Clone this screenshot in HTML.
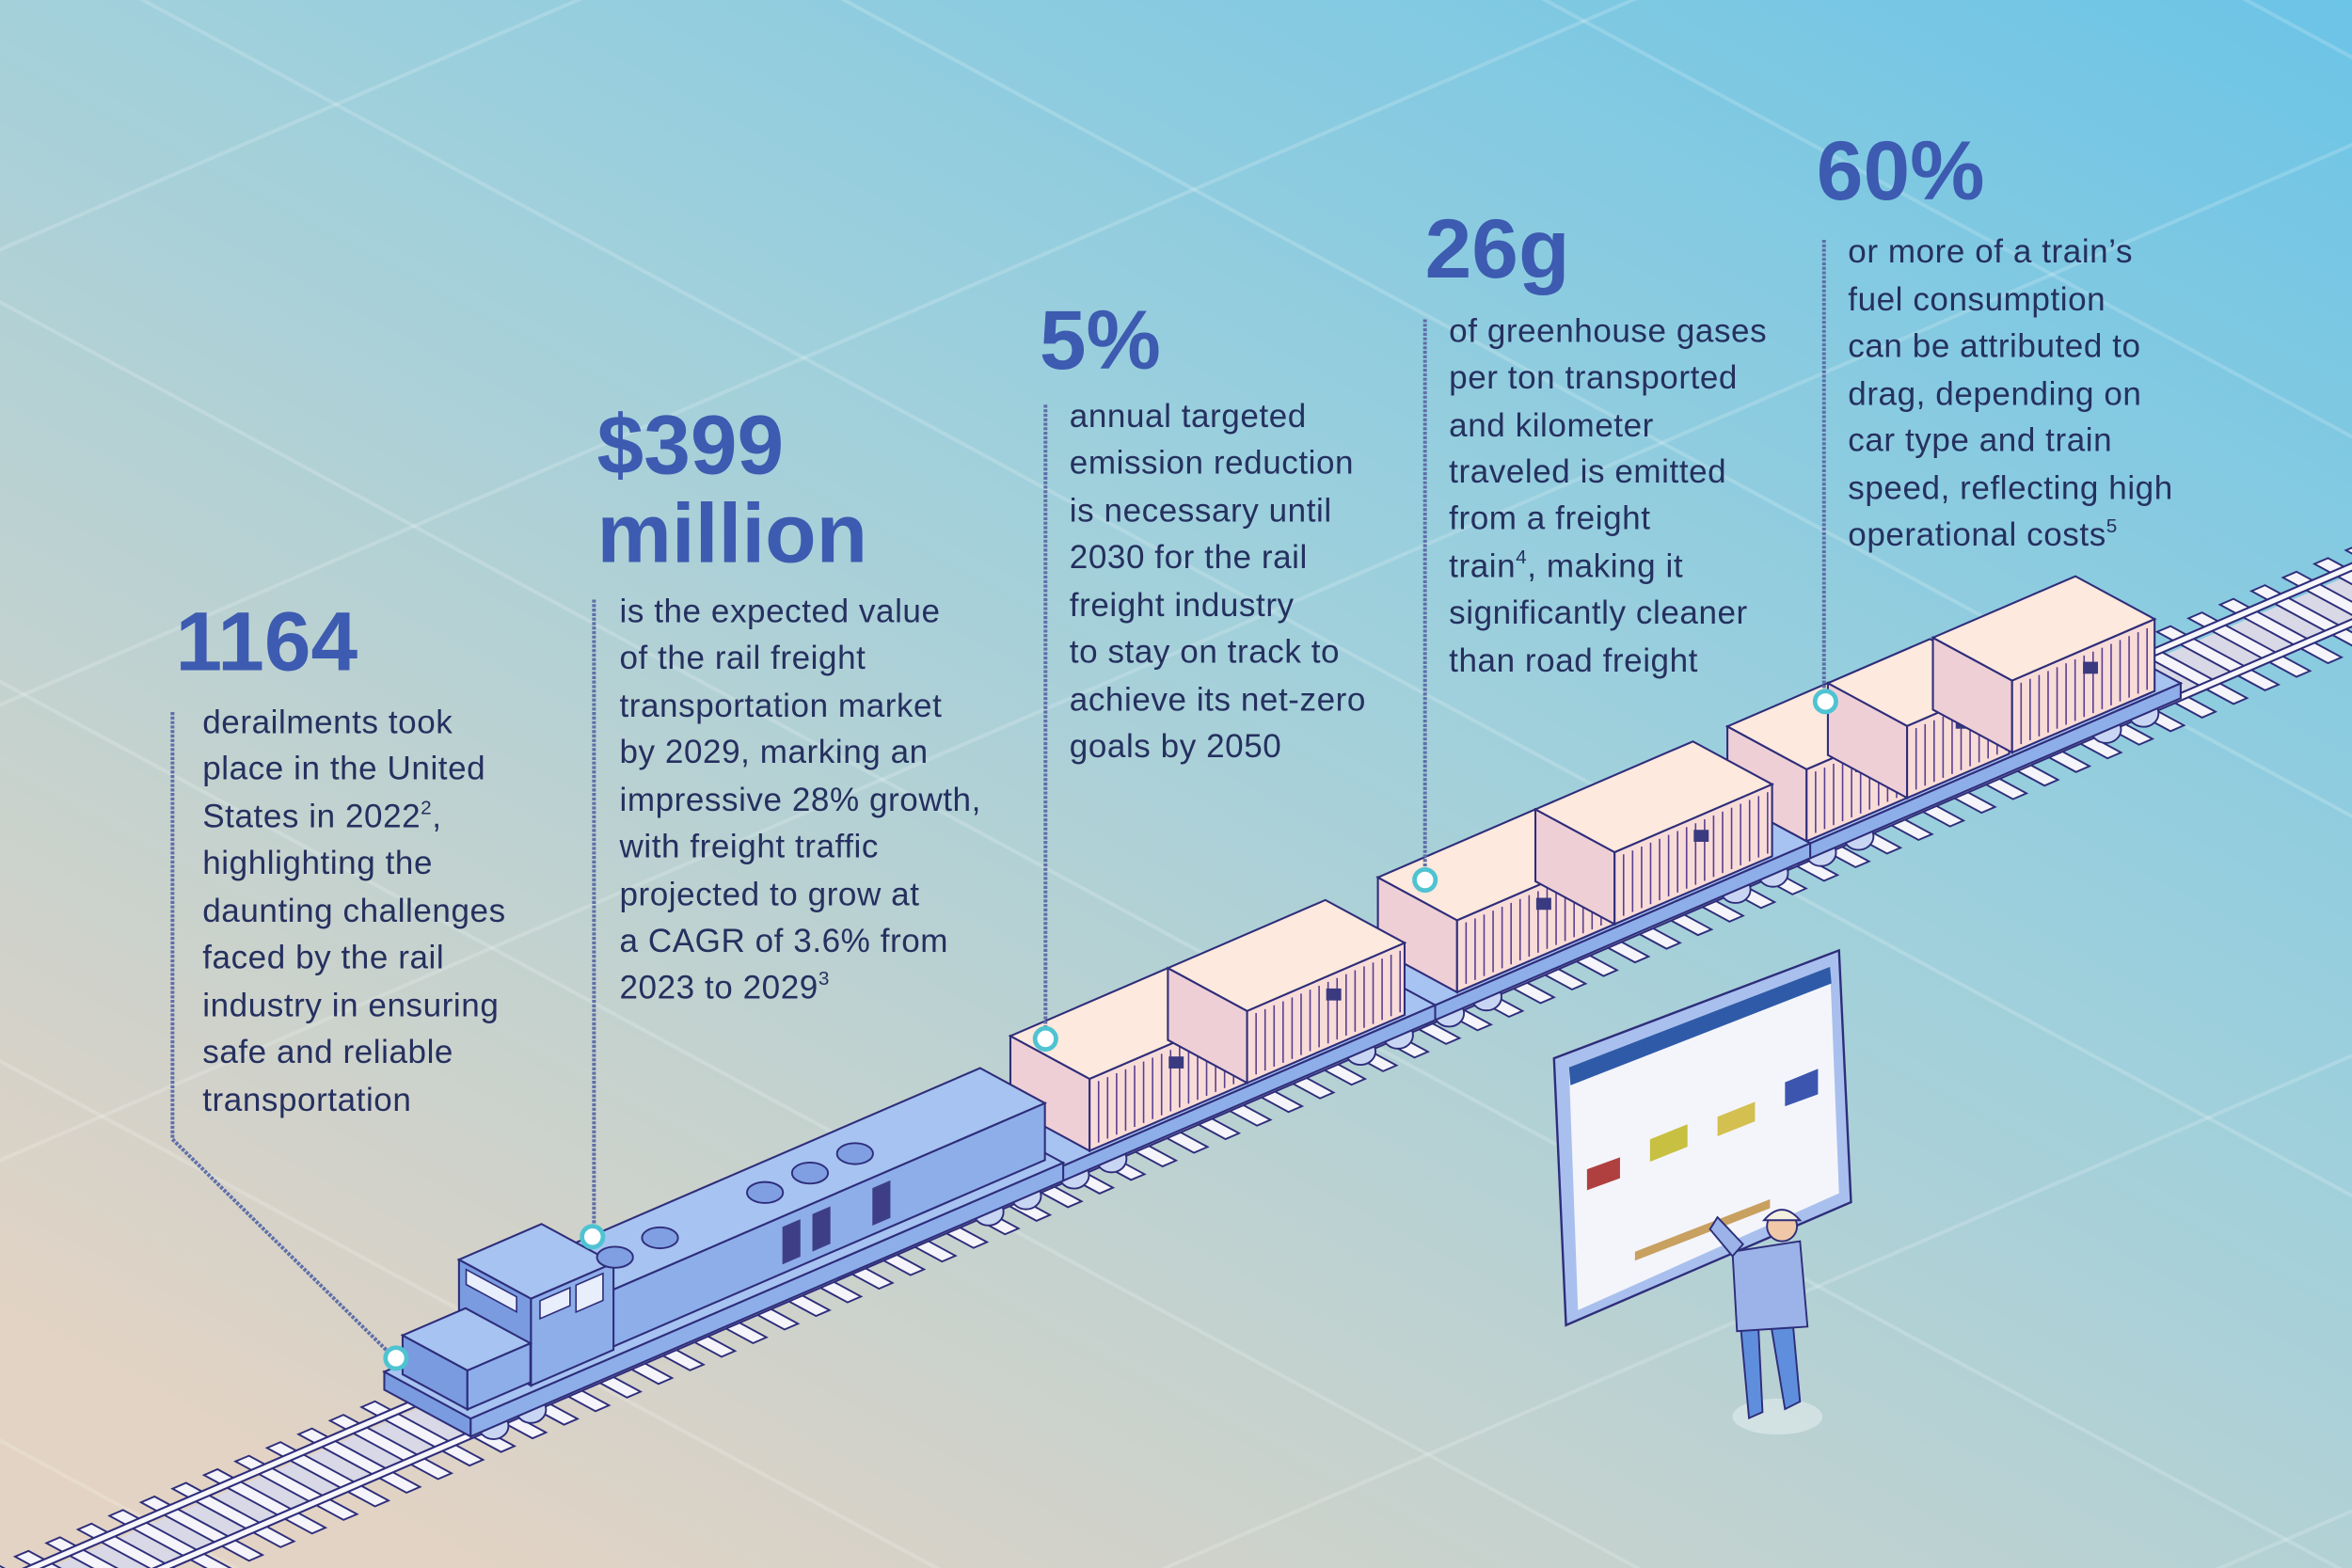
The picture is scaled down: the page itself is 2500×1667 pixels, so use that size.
<!DOCTYPE html>
<html><head><meta charset="utf-8">
<style>
html,body{margin:0;padding:0;width:2500px;height:1667px;overflow:hidden}
svg{display:block;overflow:hidden}
.b{font-family:"Liberation Sans",sans-serif;font-size:22px;letter-spacing:0.35px;fill:#25305f}
.h{font-family:"Liberation Sans",sans-serif;font-weight:bold;font-size:56px;fill:#3d5bb0}
</style></head>
<body>
<svg id="s" xmlns="http://www.w3.org/2000/svg" width="2500" height="1667" viewBox="0 0 1568 1046" preserveAspectRatio="none">
<defs>
<linearGradient id="bg" x1="1" y1="0" x2="0.2" y2="1">
<stop offset="0" stop-color="#6cc4e6"/>
<stop offset="0.45" stop-color="#9fd0dc"/>
<stop offset="1" stop-color="#e2d3c4"/>
</linearGradient>
</defs>
<rect width="1568" height="1046" fill="url(#bg)"/>
<g id="grid" stroke="#ffffff" stroke-opacity="0.18" stroke-width="2.5"></g>
<g id="track"></g>
<g id="train"></g>
<g id="screen">
<polygon points="1036,706 1226,634 1234,802 1044,884" fill="#a9c0ee" stroke="#2e2d7a" stroke-width="1.5"/>
<polygon points="1046,712 1220,645 1226,796 1052,874" fill="#f4f5fb"/>
<polygon points="1046,712 1220,645 1221,656 1047,724" fill="#2f5aa8"/>
<polygon points="1058,780 1080,772 1080,786 1058,794" fill="#b04040"/>
<polygon points="1100,760 1125,750 1125,765 1100,775" fill="#c8c040"/>
<polygon points="1145,745 1170,735 1170,748 1145,758" fill="#d4c050"/>
<polygon points="1190,722 1212,713 1212,730 1190,738" fill="#3c56b0"/>
<polygon points="1090,835 1180,800 1180,806 1090,841" fill="#c8a060"/>
</g>
<g id="person" stroke="#2e2d7a" stroke-width="1.2">
<ellipse cx="1185" cy="945" rx="30" ry="12" fill="#ffffff" fill-opacity="0.35" stroke="none"/>
<polygon points="1160,880 1172,880 1175,942 1166,946" fill="#5f8fdc"/>
<polygon points="1180,880 1195,880 1200,935 1190,940" fill="#5f8fdc"/>
<polygon points="1155,835 1200,828 1205,885 1158,888" fill="#9bb3e8"/>
<polygon points="1155,838 1140,820 1145,812 1162,830" fill="#9bb3e8"/>
<circle cx="1188" cy="818" r="10" fill="#f0c8a8"/>
<path d="M1176,814 q12,-14 24,0z" fill="#f4f0e0"/>
</g>
<g id="lines" stroke="#5f6fa8" stroke-width="2.5" stroke-dasharray="2 1" fill="none">
<polyline points="115,475 115,760 262,905"/>
<line x1="396" y1="400" x2="396" y2="823"/>
<line x1="697" y1="270" x2="697" y2="691"/>
<line x1="950" y1="213" x2="950" y2="585"/>
<line x1="1216" y1="160" x2="1216" y2="466"/>
</g>
<g fill="#ffffff" stroke="#4fc3d2" stroke-width="3">
<circle cx="264" cy="906" r="7"/><circle cx="395" cy="825" r="7"/>
<circle cx="697" cy="693" r="7"/><circle cx="950" cy="587" r="7"/><circle cx="1217" cy="468" r="7"/>
</g>
<text class="h" x="117" y="447">1164</text>
<text class="b" x="135"><tspan x="135" y="489">derailments took</tspan><tspan x="135" y="520">place in the United</tspan><tspan x="135" y="552">States in 2022<tspan font-size="13" dy="-9">2</tspan><tspan dy="9">,</tspan></tspan><tspan x="135" y="583">highlighting the</tspan><tspan x="135" y="615">daunting challenges</tspan><tspan x="135" y="646">faced by the rail</tspan><tspan x="135" y="678">industry in ensuring</tspan><tspan x="135" y="709">safe and reliable</tspan><tspan x="135" y="741">transportation</tspan></text>
<text class="h" x="398" y="316">$399</text>
<text class="h" x="398" y="375">million</text>
<text class="b"><tspan x="413" y="415">is the expected value</tspan><tspan x="413" y="446">of the rail freight</tspan><tspan x="413" y="478">transportation market</tspan><tspan x="413" y="509">by 2029, marking an</tspan><tspan x="413" y="541">impressive 28% growth,</tspan><tspan x="413" y="572">with freight traffic</tspan><tspan x="413" y="604">projected to grow at</tspan><tspan x="413" y="635">a CAGR of 3.6% from</tspan><tspan x="413" y="666">2023 to 2029<tspan font-size="13" dy="-9">3</tspan></tspan></text>
<text class="h" x="693" y="246">5%</text>
<text class="b"><tspan x="713" y="285">annual targeted</tspan><tspan x="713" y="316">emission reduction</tspan><tspan x="713" y="348">is necessary until</tspan><tspan x="713" y="379">2030 for the rail</tspan><tspan x="713" y="411">freight industry</tspan><tspan x="713" y="442">to stay on track to</tspan><tspan x="713" y="474">achieve its net-zero</tspan><tspan x="713" y="505">goals by 2050</tspan></text>
<text class="h" x="950" y="185">26g</text>
<text class="b"><tspan x="966" y="228">of greenhouse gases</tspan><tspan x="966" y="259">per ton transported</tspan><tspan x="966" y="291">and kilometer</tspan><tspan x="966" y="322">traveled is emitted</tspan><tspan x="966" y="353">from a freight</tspan><tspan x="966" y="385">train<tspan font-size="13" dy="-9">4</tspan><tspan dy="9">, making it</tspan></tspan><tspan x="966" y="416">significantly cleaner</tspan><tspan x="966" y="448">than road freight</tspan></text>
<text class="h" x="1211" y="133">60%</text>
<text class="b"><tspan x="1232" y="175">or more of a train’s</tspan><tspan x="1232" y="207">fuel consumption</tspan><tspan x="1232" y="238">can be attributed to</tspan><tspan x="1232" y="270">drag, depending on</tspan><tspan x="1232" y="301">car type and train</tspan><tspan x="1232" y="333">speed, reflecting high</tspan><tspan x="1232" y="364">operational costs<tspan font-size="13" dy="-9">5</tspan></tspan></text>
</svg>
<script>
(function(){
var NS="http://www.w3.org/2000/svg";
function P(t,s,h){return [t+24*s, 975-0.432*(t-238)+13*s-(h||0)];}
function pts(a){return a.map(function(p){return p[0].toFixed(1)+","+p[1].toFixed(1)}).join(" ");}
function el(g,n,at){var e=document.createElementNS(NS,n);for(var k in at)e.setAttribute(k,at[k]);g.appendChild(e);return e;}
var grid=document.getElementById("grid");
for(var i=-10;i<12;i++){var a=P(-400+i*260,-60,0),b=P(-400+i*260,60,0);
 el(grid,"line",{x1:a[0],y1:a[1],x2:b[0],y2:b[1]});}
for(var j=-5;j<5;j++){var a=P(-600,j*13,0),b=P(2400,j*13,0);
 el(grid,"line",{x1:a[0],y1:a[1],x2:b[0],y2:b[1]});}
var tr=document.getElementById("track");
var S="#2e2d7a";
el(tr,"polygon",{points:pts([P(-100,-0.75),P(1700,-0.75),P(1700,0.75),P(-100,0.75)]),fill:"#d8d8e6"});
for(var t=-80;t<1700;t+=21){
 el(tr,"polygon",{points:pts([P(t,-1.5),P(t+9,-1.5),P(t+9,1.5),P(t,1.5)]),fill:"#f4f4fa",stroke:S,"stroke-width":1.2});
}
[-0.85,0.75].forEach(function(s){
 el(tr,"polygon",{points:pts([P(-100,s,0),P(1700,s,0),P(1700,s,5),P(-100,s,5)]),fill:"#f6f6fb",stroke:S,"stroke-width":1.3});
});
var g=document.getElementById("train");
function box(t0,t1,s0,s1,h0,h1,c){
 el(g,"polygon",{points:pts([P(t0,s0,h0),P(t0,s1,h0),P(t0,s1,h1),P(t0,s0,h1)]),fill:c[2],stroke:S,"stroke-width":1.3});
 el(g,"polygon",{points:pts([P(t0,s1,h0),P(t1,s1,h0),P(t1,s1,h1),P(t0,s1,h1)]),fill:c[1],stroke:S,"stroke-width":1.3});
 el(g,"polygon",{points:pts([P(t0,s0,h1),P(t1,s0,h1),P(t1,s1,h1),P(t0,s1,h1)]),fill:c[0],stroke:S,"stroke-width":1.3});
}
var B=["#a7c3f1","#8eaeea","#7a9be0"], C=["#fde9dd","#f8dcd8","#efcfd6"];
function wheels(t0,t1){
 [t0+20,t0+45,t1-45,t1-20].forEach(function(t){var p=P(t,1,8);
  el(g,"ellipse",{cx:p[0],cy:p[1],rx:10,ry:9,fill:"#c9d6f3",stroke:S,"stroke-width":1.2});});
}
function container(t0,len){
 box(t0,t0+len,-1.1,1.1,22,70,C);
 for(var t=t0+6;t<t0+len;t+=6){var a=P(t,1.1,25),b=P(t,1.1,66);
  el(g,"line",{x1:a[0],y1:a[1],x2:b[0],y2:b[1],stroke:"#5a3f90","stroke-width":1});}
 var c=P(t0+len*0.55,1.1,56);
 el(g,"rect",{x:c[0]-5,y:c[1]-4,width:10,height:8,fill:"#3a3a80"});
}
function flat(t0,t1,cs){
 wheels(t0,t1);
 box(t0,t1,-1.2,1.2,12,22,B);
 for(var i=cs.length-1;i>=0;i--)container(cs[i][0],cs[i][1]);
}
flat(1170,1425,[[1315,95],[1245,68],[1178,68]]);
flat(922,1178,[[1050,105],[945,105]]);
flat(672,928,[[805,105],[700,105]]);
wheels(285,680);
box(285,680,-1.2,1.2,12,24,B);
box(380,675,-0.9,0.9,24,62,B);
box(330,385,-1.0,1.0,24,82,B);
box(290,332,-0.9,0.9,24,50,B);
el(g,"polygon",{points:pts([P(336,1,78),P(356,1,78),P(356,1,66),P(336,1,66)]),fill:"#e8eefc",stroke:S,"stroke-width":1});
el(g,"polygon",{points:pts([P(360,1,78),P(378,1,78),P(378,1,60),P(360,1,60)]),fill:"#e8eefc",stroke:S,"stroke-width":1});
el(g,"polygon",{points:pts([P(330,-0.8,78),P(330,0.6,78),P(330,0.6,68),P(330,-0.8,68)]),fill:"#e8eefc",stroke:S,"stroke-width":1});
[[410,0],[440,0],[510,0],[540,0],[570,0]].forEach(function(f){var p=P(f[0],f[1],62);
 el(g,"ellipse",{cx:p[0],cy:p[1],rx:12,ry:7,fill:"#7f9fe2",stroke:S,"stroke-width":1.2});});
[500,520,560].forEach(function(t){el(g,"polygon",{points:pts([P(t,0.9,30),P(t+12,0.9,30),P(t+12,0.9,55),P(t,0.9,55)]),fill:"#3e3e86"});});
})();
</script>
</body></html>
